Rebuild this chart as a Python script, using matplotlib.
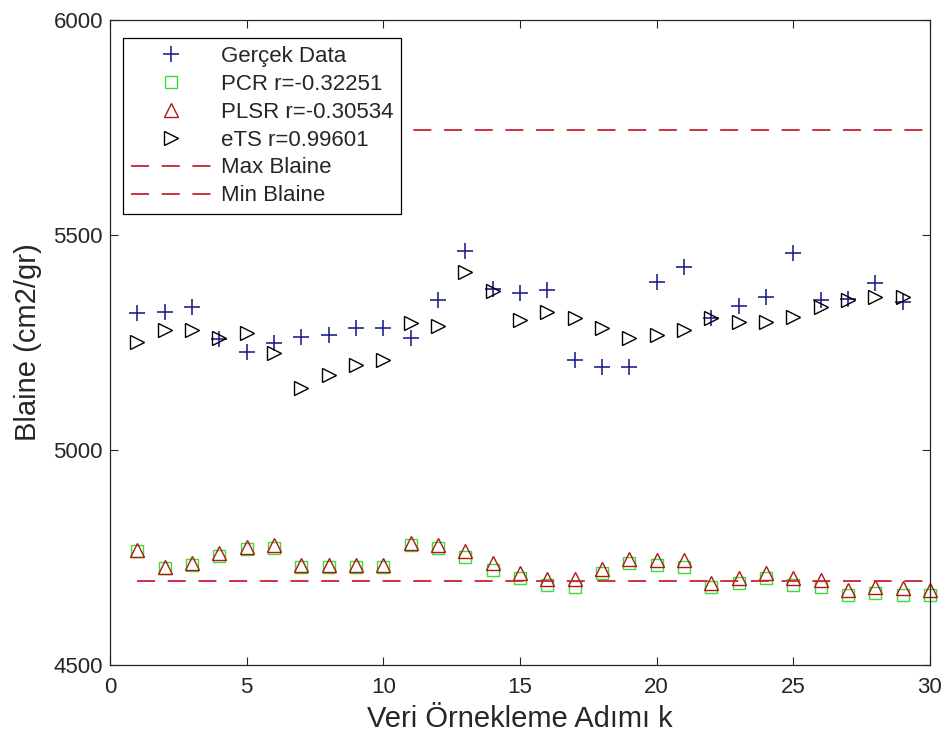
import numpy as np
import matplotlib
matplotlib.use("Agg")
import matplotlib.pyplot as plt

# veri
k_gercek = np.arange(1, 30)
gercek = [5319, 5322, 5333, 5258, 5229, 5249, 5263, 5267, 5284, 5283,
          5260, 5350, 5462, 5375, 5365, 5372, 5209, 5194, 5194, 5391,
          5426, 5307, 5335, 5357, 5458, 5349, 5351, 5388, 5345]
ets = [5252, 5279, 5279, 5260, 5272, 5226, 5144, 5174, 5198, 5209,
       5295, 5288, 5415, 5370, 5302, 5322, 5307, 5283, 5260, 5267,
       5279, 5307, 5298, 5298, 5310, 5333, 5349, 5357, 5357]

k_model = np.arange(1, 31)
pcr = [4764, 4726, 4732, 4753, 4770, 4773, 4728, 4728, 4728, 4728,
       4778, 4773, 4752, 4721, 4702, 4686, 4682, 4714, 4737, 4733,
       4729, 4682, 4690, 4702, 4686, 4682, 4663, 4667, 4663, 4663]
plsr = [4767, 4729, 4737, 4760, 4775, 4779, 4733, 4733, 4733, 4733,
        4784, 4779, 4764, 4737, 4714, 4700, 4700, 4723, 4747, 4744,
        4744, 4690, 4702, 4714, 4702, 4698, 4674, 4682, 4679, 4674]

max_blaine = 5745
min_blaine = 4695

labels = ['Gerçek Data', 'PCR r=-0.32251', 'PLSR r=-0.30534',
          'eTS r=0.99601', 'Max Blaine', 'Min Blaine']

plt.rcParams['font.family'] = ['Liberation Sans', 'DejaVu Sans']
axis_color = '#262626'

fig = plt.figure(figsize=(9.44, 7.42), dpi=100)
ax = fig.add_axes([0.1165, 0.1038, 0.8685, 0.8692])

ax.plot(k_gercek, gercek, '+', color='#22228c', markersize=11, markeredgewidth=1.2,
        label=labels[0], clip_on=False)
ax.plot(k_model, pcr, 's', color='#3ddc3d', markerfacecolor='none', markersize=8,
        markeredgewidth=1.0, label=labels[1], clip_on=False)
ax.plot(k_model, plsr, '^', color='#b01818', markerfacecolor='none', markersize=10,
        markeredgewidth=1.0, label=labels[2], clip_on=False)
ax.plot(k_gercek, ets, '>', color='black', markerfacecolor='none', markersize=10,
        markeredgewidth=1.0, label=labels[3], clip_on=False)
ax.plot(k_model, np.full(len(k_model), max_blaine), '--', color='#cc2233', linewidth=1.3,
        dashes=(10, 7), label=labels[4])
ax.plot(k_model, np.full(len(k_model), min_blaine), '--', color='#cc2233', linewidth=1.3,
        dashes=(10, 7), label=labels[5])

ax.set_xlim(0, 30)
ax.set_ylim(4500, 6000)
ax.set_xticks(np.arange(0, 31, 5))
ax.set_yticks([4500, 5000, 5500, 6000])
ax.tick_params(direction='in', top=True, right=True, length=6, width=0.8,
               labelsize=16, colors=axis_color)
ax.tick_params(axis='x', pad=8.5)
ax.tick_params(axis='y', pad=5)
for side in ax.spines.values():
    side.set_color(axis_color)
    side.set_linewidth(0.9)

ax.set_xlabel('Veri Örnekleme Adımı k', fontsize=21, color=axis_color, labelpad=5)
ax.set_ylabel('Blaine (cm2/gr)', fontsize=21, color=axis_color, labelpad=8)

leg = ax.legend(loc='upper left', bbox_to_anchor=(0.016, 0.972), borderaxespad=0,
                fontsize=16, handlelength=3.6, handletextpad=0.45, labelspacing=0.31,
                borderpad=0.35, fancybox=False, framealpha=1, edgecolor='black')
leg.get_frame().set_linewidth(0.9)
for txt in leg.get_texts():
    txt.set_color(axis_color)

fig.savefig('out.png', dpi=100)
